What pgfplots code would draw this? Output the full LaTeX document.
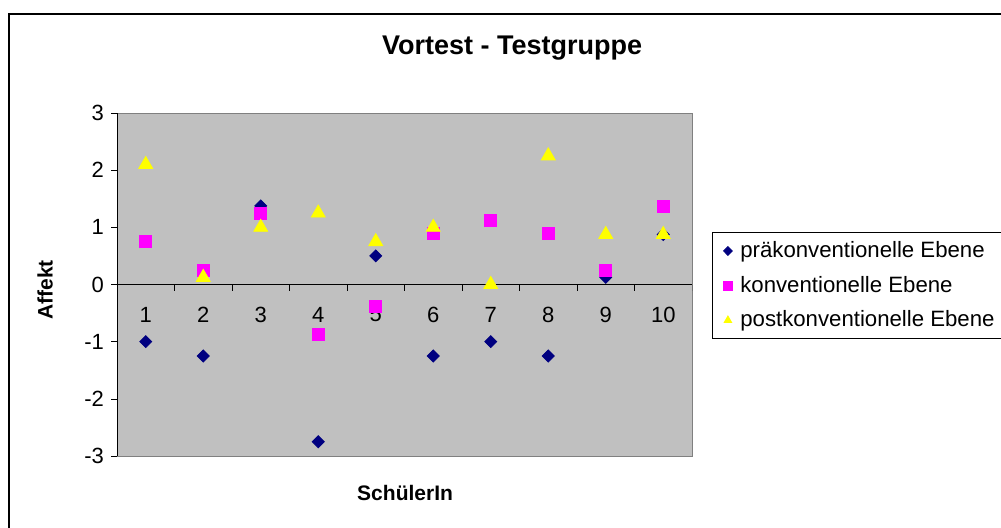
\documentclass[border=0pt]{standalone}
\usepackage{fontspec}
\setmainfont{Liberation Sans}
\usepackage{pgfplots}
\pgfplotsset{compat=1.18}
\definecolor{plotgray}{RGB}{192,192,192}
\definecolor{navyblue}{RGB}{0,0,128}
\definecolor{pinkmag}{RGB}{255,0,255}
\definecolor{yell}{RGB}{255,255,0}

\pgfplotstableread{
x pre conv post
1  -1.0   0.75   2.1
2  -1.25  0.25   0.125
3   1.375 1.25   1.0
4  -2.75 -0.875  1.25
5   0.5  -0.375  0.75
6  -1.25  0.9    1.0
7  -1.0   1.125  0.0
8  -1.25  0.9    2.25
9   0.125 0.25   0.875
10  0.875 1.375  0.875
}\scores

\begin{document}
\begin{tikzpicture}
\useasboundingbox (0,0) rectangle (500.5pt,263.5pt);
\clip (0,0) rectangle (500.5pt,263.5pt);
\fill[white] (0,0) rectangle (500.5pt,263.5pt);
\draw[black, line width=0.6pt] (4.5pt,-10pt) rectangle (520pt,256.5pt);
\begin{axis}[
  at={(58.5pt,35.5pt)}, anchor=south west,
  scale only axis, width=287.5pt, height=171.5pt,
  xmin=0.5, xmax=10.5, ymin=-3, ymax=3,
  xtick=\empty, ytick={-3,...,3}, ytick pos=left,
  tick align=outside, major tick length=3pt,
  tick style={black},
  axis background/.style={fill=plotgray},
  axis line style={draw=gray},
  yticklabel style={font=\fontsize{11}{13}\selectfont},
  /pgf/number format/assume math mode=true,
  title={Vortest - Testgruppe},
  title style={at={(axis description cs:0.687,1.155)}, anchor=center,
    font=\bfseries\fontsize{13.5}{15}\selectfont},
  xlabel={SchülerIn},
  xlabel style={at={(axis description cs:0.501,-0.108)}, anchor=center,
    font=\bfseries\fontsize{10.5}{12}\selectfont},
  ylabel={Affekt},
  ylabel style={at={(axis description cs:-0.125,0.484)}, anchor=center,
    font=\bfseries\fontsize{10.5}{12}\selectfont},
  legend style={at={(axis description cs:1.035,0.653)}, anchor=north west,
    draw=black, font=\fontsize{11.1}{12}\selectfont,
    row sep=3.8pt, inner ysep=2.5pt, inner xsep=5.5pt,
    /tikz/every odd column/.append style={column sep=2pt}},
  legend cell align=left,
  legend image post style={mark size=2.2pt},
]
\draw[black] (rel axis cs:0,0) -- (rel axis cs:0,1);
\draw[black] (axis cs:0.5,0) -- (axis cs:10.5,0);
\pgfplotsinvokeforeach{1.5,2.5,...,10.5}{\draw[black] (axis cs:#1,0) -- ++(0pt,-3pt);}
\pgfplotsinvokeforeach{1,...,10}{\node[font=\fontsize{11}{13}\selectfont] at (axis cs:#1,0) [yshift=-15pt] {#1};}
\addplot[only marks, mark=diamond*, mark size=3pt, color=navyblue,
  mark options={xscale=1.33}] table[x=x, y=pre] {\scores};
\addlegendentry{präkonventionelle Ebene}
\addplot[only marks, mark=square*, mark size=3pt, color=pinkmag] table[x=x, y=conv] {\scores};
\addlegendentry{konventionelle Ebene}
\addplot[only marks, mark=triangle*, mark size=4pt, color=yell] table[x=x, y=post] {\scores};
\addlegendentry{postkonventionelle Ebene\hspace*{12pt}}
\end{axis}
\end{tikzpicture}
\end{document}
